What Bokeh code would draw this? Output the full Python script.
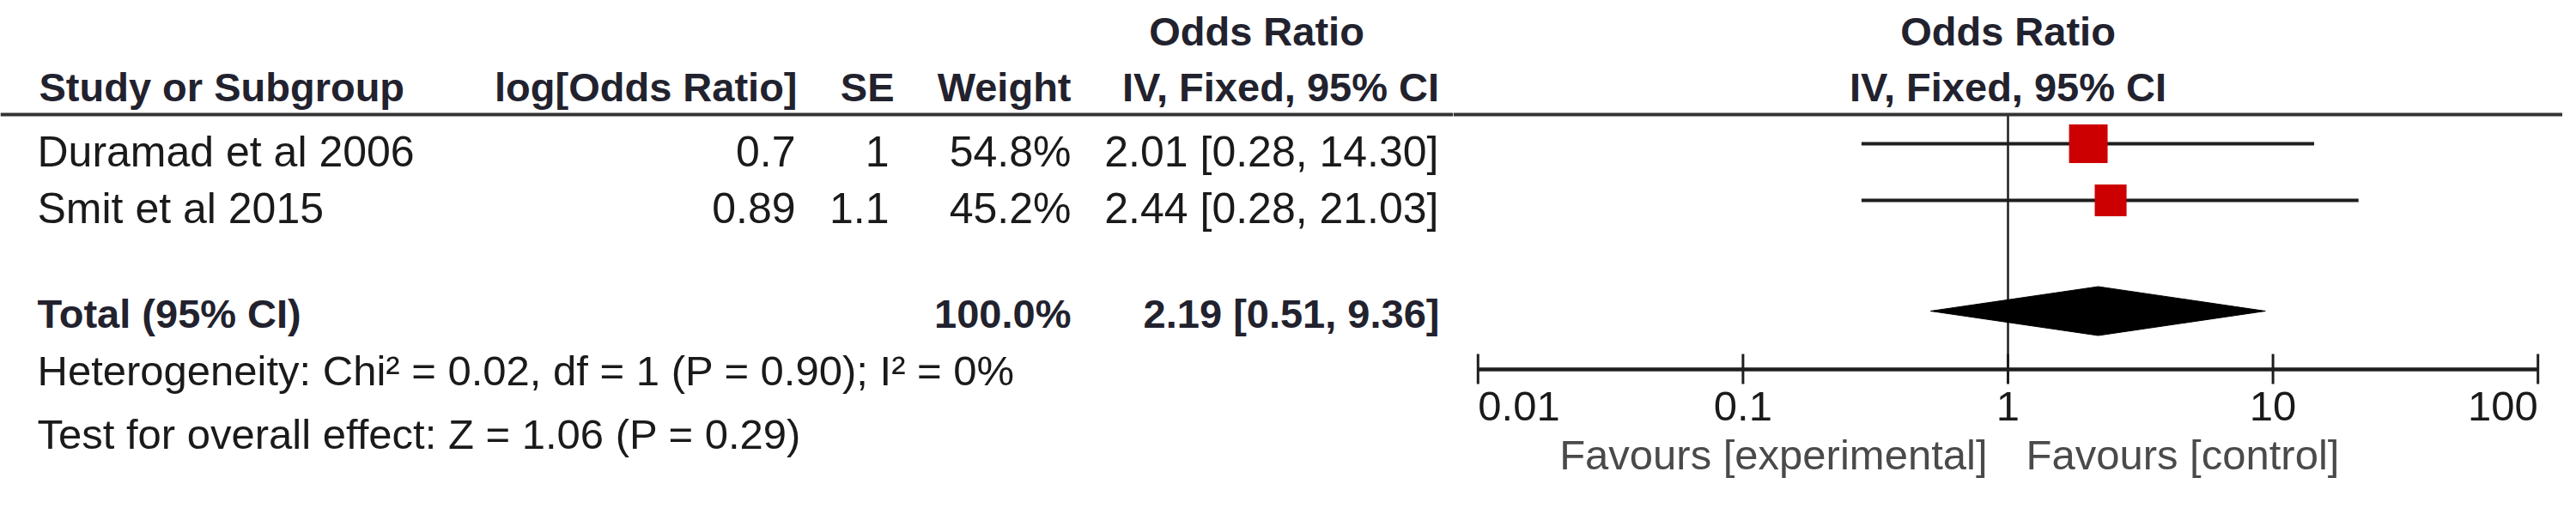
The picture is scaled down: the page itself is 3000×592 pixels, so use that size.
from bokeh.plotting import figure
from bokeh.models import ColumnDataSource, Range1d, Span
from bokeh.layouts import row
from bokeh.embed import file_html
from bokeh.resources import INLINE
from bokeh.core.properties import value

# ---------------- data ----------------
studies = ["Duramad et al 2006", "Smit et al 2015"]
log_or = ["0.7", "0.89"]
se = ["1", "1.1"]
weights = [54.8, 45.2]
odds_ratio = [2.01, 2.44]
ci_low = [0.28, 0.28]
ci_high = [14.30, 21.03]

total_label = "Total (95% CI)"
total_weight = 100.0
total_or = 2.19
total_low = 0.51
total_high = 9.36

heterogeneity = "Heterogeneity: Chi\u00b2 = 0.02, df = 1 (P = 0.90); I\u00b2 = 0%"
overall_effect = "Test for overall effect: Z = 1.06 (P = 0.29)"

tick_values = [0.01, 0.1, 1, 10, 100]
tick_labels = ["0.01", "0.1", "1", "10", "100"]
favours_left = "Favours [experimental]"
favours_right = "Favours [control]"

# ---------------- layout constants (pixels) ----------------
FONT = value("Liberation Sans")
REG = "49px"
REG_ROW = "50px"
BOLD = "47px"
TXT = "#1a1a1a"
HDR = "#22222e"
LINE = "#1e1e1e"

W1, W2, H = 1692, 1292, 576
X_SPLIT = W1
X_ONE = 2338        # x of OR = 1
DECADE = 308.6      # pixels per decade
TB = 17             # text baseline correction

row_y = [167, 233]
total_y = 362
header_line_y = 133
axis_y = 430


def fmt_ci(o, lo, hi):
    return f"{o:.2f} [{lo:.2f}, {hi:.2f}]"


def base_fig(width, x_range, **kw):
    p = figure(width=width, height=H, x_range=x_range,
               y_range=Range1d(H, 0),
               output_backend="svg", toolbar_location=None,
               x_axis_location=None, y_axis_location=None,
               min_border=0, **kw)
    p.outline_line_color = None
    p.xgrid.visible = False
    p.ygrid.visible = False
    p.background_fill_color = "white"
    p.border_fill_color = "white"
    p.add_layout(Span(location=header_line_y, dimension="width",
                      line_color="#333333", line_width=4))
    return p


# ---------------- left: table ----------------
left = base_fig(W1, Range1d(0, X_SPLIT))

reg = dict(x=[], y=[], text=[], align=[])
rows = dict(x=[], y=[], text=[], align=[])
bold = dict(x=[], y=[], text=[], align=[])


def add(d, x, y, t, a):
    d["x"].append(x)
    d["y"].append(y - TB)
    d["text"].append(t)
    d["align"].append(a)


for i, name in enumerate(studies):
    b = row_y[i] + 26
    add(rows, 43, b, name, "left")
    add(rows, 926, b, log_or[i], "right")
    add(rows, 1035, b, se[i], "right")
    add(rows, 1247, b, f"{weights[i]:.1f}%", "right")
    add(rows, 1675, b, fmt_ci(odds_ratio[i], ci_low[i], ci_high[i]), "right")

add(reg, 43, 448, heterogeneity, "left")
add(reg, 43, 522, overall_effect, "left")

add(bold, 1463, 53, "Odds Ratio", "center")
add(bold, 45, 118, "Study or Subgroup", "left")
add(bold, 928, 118, "log[Odds Ratio]", "right")
add(bold, 1041, 118, "SE", "right")
add(bold, 1247, 118, "Weight", "right")
add(bold, 1491, 118, "IV, Fixed, 95% CI", "center")
add(bold, 43, 382, total_label, "left")
add(bold, 1247, 382, f"{total_weight:.1f}%", "right")
add(bold, 1676, 382, fmt_ci(total_or, total_low, total_high), "right")

left.text(x="x", y="y", text="text", text_align="align", source=ColumnDataSource(rows),
          text_font=FONT, text_font_size=REG_ROW, text_color=TXT, text_baseline="alphabetic")
left.text(x="x", y="y", text="text", text_align="align", source=ColumnDataSource(reg),
          text_font=FONT, text_font_size=REG, text_color=TXT, text_baseline="alphabetic")
left.text(x="x", y="y", text="text", text_align="align", source=ColumnDataSource(bold),
          text_font=FONT, text_font_size=BOLD, text_font_style="bold", text_color=HDR,
          text_baseline="alphabetic")

# ---------------- right: forest plot ----------------
x_start = 10 ** ((X_SPLIT - X_ONE) / DECADE)
x_end = 10 ** ((X_SPLIT + W2 - X_ONE) / DECADE)
right = base_fig(W2, Range1d(x_start, x_end), x_axis_type="log")

right.text(x=[1, 1], y=[53 - TB, 118 - TB], text=["Odds Ratio", "IV, Fixed, 95% CI"],
           text_align="center", text_baseline="alphabetic", text_font=FONT,
           text_font_size=BOLD, text_font_style="bold", text_color=HDR)

# line of no effect
right.segment(x0=[1], x1=[1], y0=[header_line_y], y1=[axis_y], line_color=LINE, line_width=2.5)

# confidence intervals
right.segment(x0=ci_low, x1=ci_high, y0=row_y, y1=row_y, line_color=LINE, line_width=4)

# weighted squares
right.scatter(x=odds_ratio, y=row_y, marker="square",
              size=[w * 0.82 for w in weights],
              fill_color="#cc0000", line_color="#cc0000", line_width=0)

# pooled diamond
half_h = 28.5
right.patch(x=[total_low, total_or, total_high, total_or],
            y=[total_y, total_y - half_h, total_y, total_y + half_h],
            fill_color="black", line_color="black", line_width=1)

# axis
right.segment(x0=[tick_values[0]], x1=[tick_values[-1]], y0=[axis_y], y1=[axis_y],
              line_color=LINE, line_width=4.5)
right.segment(x0=tick_values, x1=tick_values, y0=[axis_y - 18] * len(tick_values),
              y1=[axis_y + 17] * len(tick_values), line_color=LINE, line_width=3)
right.text(x=tick_values, y=[490 - TB] * len(tick_values), text=tick_labels,
           text_align=["left", "center", "center", "center", "right"],
           text_baseline="alphabetic", text_font=FONT, text_font_size=REG, text_color=TXT)

right.text(x=[1, 1], y=[546 - TB, 546 - TB], text=[favours_left, favours_right],
           text_align=["right", "left"], x_offset=[-24, 21],
           text_baseline="alphabetic", text_font=FONT, text_font_size=REG,
           text_color="#4a4a4a")

layout = row(left, right)
open("out.html", "w").write(file_html(layout, INLINE))
